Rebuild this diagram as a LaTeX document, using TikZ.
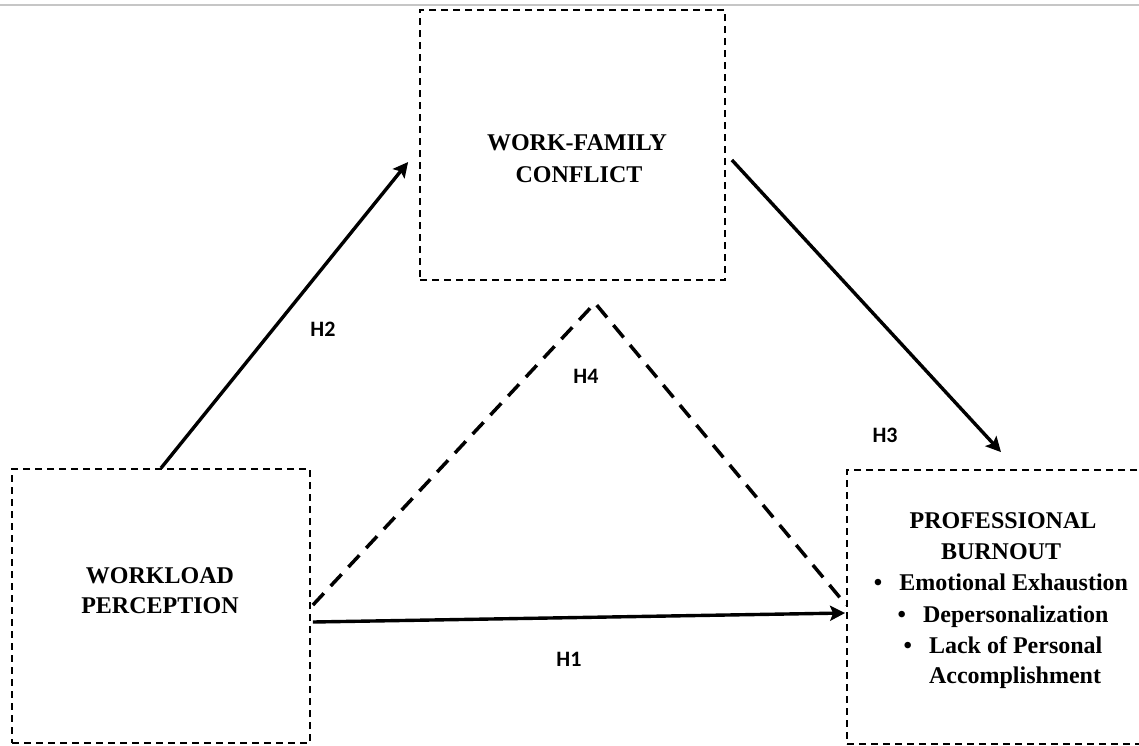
\documentclass[tikz,border=0pt]{standalone}
\usepackage{fontspec}
\setmainfont{Liberation Serif}
\newfontfamily\hfont{Carlito}
\usetikzlibrary{arrows.meta}
\tikzset{
  box/.style={draw, line width=1.8pt, dash pattern=on 7pt off 5pt, inner sep=0pt},
  ttl/.style={font=\bfseries\fontsize{24}{31}\selectfont, anchor=base, inner sep=0pt},
  hlab/.style={font=\hfont\bfseries\fontsize{22}{26}\selectfont, inner sep=0pt},
  arr/.style={line width=3.4pt, -{Stealth[length=15pt,width=15pt,inset=3pt]}},
  dsh/.style={line width=3.5pt, dash pattern=on 16pt off 10pt},
}
\begin{document}
\begin{tikzpicture}[x=1pt,y=-1pt]
\useasboundingbox (0,0) rectangle (1139,745);
\draw[gray!45, line width=1.2pt] (0,5) -- (1139,5);
% boxes
\node[box, minimum width=305pt, minimum height=270pt] (wfc) at (572.5,145) {};
\node[box, minimum width=298pt, minimum height=274pt] (wp) at (161,606) {};
\node[box, minimum width=308pt, minimum height=274pt] (pb) at (1001,607) {};
% texts
\node[ttl] (t1) at (577,150) {WORK-FAMILY};
\node[ttl] (t2) at (579,182) {CONFLICT};
\node[ttl] (t3) at (160,583) {WORKLOAD};
\node[ttl] (t4) at (160,613) {PERCEPTION};
\node[ttl] (t5) at (1003,528) {PROFESSIONAL};
\node[ttl] (t6) at (1001,559) {BURNOUT};
\node[ttl] (t7) at (1001,590) {\textbullet\hspace{17pt}Emotional Exhaustion};
\node[ttl] (t8) at (1003,622) {\textbullet\hspace{17pt}Depersonalization};
\node[ttl] (t9) at (1003,653) {\textbullet\hspace{17pt}Lack of Personal};
\node[ttl] (t10) at (1015,683) {Accomplishment};
% arrows
\draw[arr] (wp.north) -- ([xshift=-11pt,yshift=-17pt]wfc.west);
\draw[arr] ([xshift=6pt,yshift=-15pt]wfc.east) -- ([yshift=17pt]pb.north);
\draw[arr] ([xshift=2pt,yshift=-16pt]wp.east) -- ([xshift=-1pt,yshift=-6pt]pb.west);
\coordinate (apex) at (595,303);
\draw[dsh] ([xshift=2pt,yshift=1pt]wp.east) -- (apex) -- ([yshift=2pt]pb.west);
% labels
\node[hlab] (h2) at (323,329) {H2};
\node[hlab] (h4) at (586,376) {H4};
\node[hlab] (h3) at (885,435) {H3};
\node[hlab] (h1) at (569,659) {H1};
\end{tikzpicture}
\end{document}
